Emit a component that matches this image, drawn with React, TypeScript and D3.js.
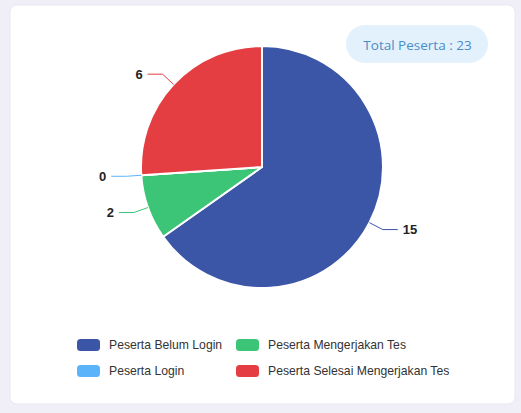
import React from "react";
import * as d3 from "d3";

const categories = ["Peserta Belum Login", "Peserta Mengerjakan Tes", "Peserta Login", "Peserta Selesai Mengerjakan Tes"];
const values = [15, 2, 0, 6];
const colors = ["#3c56a7", "#3dc577", "#5bb4fa", "#e43e43"];
const totalLabel = "Total Peserta : ";

const W = 521;
const H = 413;

export default function App() {
  const cx = 262;
  const cy = 167;
  const r = 121;
  const pie = d3.pie<number>().sort(null).value((d) => d)(values);
  const arc = d3.arc<d3.PieArcDatum<number>>().innerRadius(0).outerRadius(r);
  const total = d3.sum(values);

  const legendCols = [77, 236];
  const legendRows = [345, 371];

  return (
    <svg width={W} height={H} style={{ position: "absolute", left: 0, top: 0 }} fontFamily="'Liberation Sans', Arial, sans-serif">
      <rect x={0} y={0} width={W} height={H} fill="#f0eff7" />
      <rect x={10} y={5} width={505} height={399} rx={7} fill="#ffffff" stroke="#e9e7f0" strokeWidth={1} />
      <g transform={`translate(${cx},${cy})`}>
        {pie.map((p, i) => (
          <path key={i} d={arc(p) || ""} fill={colors[i]} stroke="#ffffff" strokeWidth={2} strokeLinejoin="round" />
        ))}
        {pie.map((p, i) => {
          const a = (p.startAngle + p.endAngle) / 2;
          const sx = Math.sin(a), sy = -Math.cos(a);
          const x1 = r * sx, y1 = r * sy;
          const x2 = (r + 15) * sx, y2 = (r + 15) * sy;
          const dir = sx >= 0 ? 1 : -1;
          const x3 = x2 + dir * 15;
          return (
            <g key={"l" + i}>
              <polyline points={`${x1},${y1} ${x2},${y2} ${x3},${y2}`} fill="none" stroke={colors[i]} strokeWidth={1} />
              <text x={x3 + dir * 5} y={y2} textAnchor={dir > 0 ? "start" : "end"} dominantBaseline="central" fontSize={13} fontWeight="bold" fill="#222">
                {values[i]}
              </text>
            </g>
          );
        })}
      </g>
      <rect x={346} y={25} width={142} height={38} rx={19} fill="#e3f1fd" />
      <text x={417.5} y={44.5} textAnchor="middle" dominantBaseline="central" fontSize={13.5} fill="#4a8cc8" fontFamily="'Open Sans', sans-serif" fontWeight={500}>
        {totalLabel + total}
      </text>
      {categories.map((c, i) => {
        const x = legendCols[i % 2];
        const y = legendRows[Math.floor(i / 2)];
        return (
          <g key={"lg" + i}>
            <rect x={x} y={y - 6} width={23} height={12} rx={3.5} fill={colors[i]} />
            <text x={x + 32} y={y} dominantBaseline="central" fontSize={12.2} fill="#333">
              {c}
            </text>
          </g>
        );
      })}
    </svg>
  );
}
